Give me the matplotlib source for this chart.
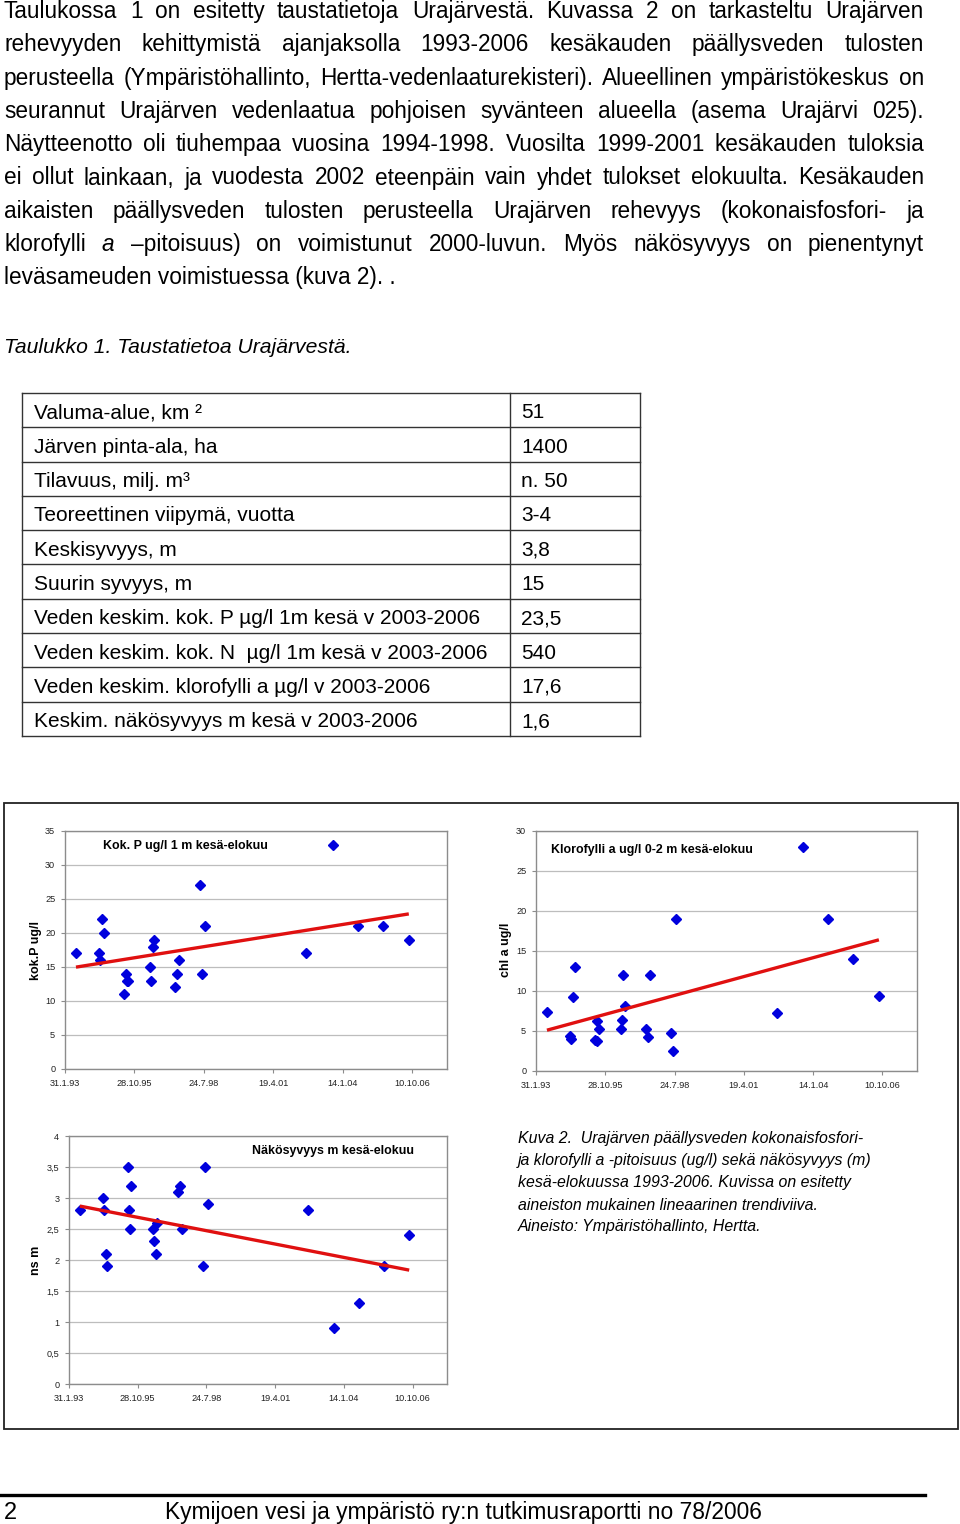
import numpy as np
import pandas as pd
import matplotlib
matplotlib.use("Agg")
import matplotlib.pyplot as plt
import matplotlib.dates as mdates
from matplotlib.lines import Line2D
from matplotlib.patches import Rectangle
from matplotlib.ticker import FuncFormatter, MultipleLocator

plt.rcParams['font.family'] = ['Liberation Sans', 'DejaVu Sans']

W, H = 960, 1524

# tekstikappale (rivit kuten alkuperäisessä, _ = kursiivi)
para_lines = [
    "Taulukossa 1 on esitetty taustatietoja Urajärvestä. Kuvassa 2 on tarkasteltu Urajärven",
    "rehevyyden kehittymistä ajanjaksolla 1993-2006 kesäkauden päällysveden tulosten",
    "perusteella (Ympäristöhallinto, Hertta-vedenlaaturekisteri). Alueellinen ympäristökeskus on",
    "seurannut Urajärven vedenlaatua pohjoisen syvänteen alueella (asema Urajärvi 025).",
    "Näytteenotto oli tiuhempaa vuosina 1994-1998. Vuosilta 1999-2001 kesäkauden tuloksia",
    "ei ollut lainkaan, ja vuodesta 2002 eteenpäin vain yhdet tulokset elokuulta. Kesäkauden",
    "aikaisten päällysveden tulosten perusteella Urajärven rehevyys (kokonaisfosfori- ja",
    "klorofylli _a –pitoisuus) on voimistunut 2000-luvun. Myös näkösyvyys on pienentynyt",
    "leväsameuden voimistuessa (kuva 2). .",
]
table_title = "Taulukko 1. Taustatietoa Urajärvestä."

# taulukko 1
table_labels = [
    "Valuma-alue, km ²",
    "Järven pinta-ala, ha",
    "Tilavuus, milj. m³",
    "Teoreettinen viipymä, vuotta",
    "Keskisyvyys, m",
    "Suurin syvyys, m",
    "Veden keskim. kok. P µg/l 1m kesä v 2003-2006",
    "Veden keskim. kok. N  µg/l 1m kesä v 2003-2006",
    "Veden keskim. klorofylli a µg/l v 2003-2006",
    "Keskim. näkösyvyys m kesä v 2003-2006",
]
table_values = ["51", "1400", "n. 50", "3-4", "3,8", "15", "23,5", "540", "17,6", "1,6"]

# näytteenottopäivät ja tulokset (kesä-elokuu)
dates = pd.to_datetime([
    "1993-07-08",
    "1994-06-09", "1994-06-23", "1994-07-22", "1994-08-10",
    "1995-06-03", "1995-06-27", "1995-07-06", "1995-07-26",
    "1996-06-06", "1996-06-20", "1996-07-14", "1996-08-02",
    "1997-06-01", "1997-07-04", "1997-08-01",
    "1998-06-04", "1998-07-03", "1998-08-10",
    "2002-08-06", "2003-08-24", "2004-08-18", "2005-08-17", "2006-08-21",
])
kok_p = [17, 17, 16, 22, 20, 11, 14, 13, 13, 15, 13, 18, 19, 12, 14, 16,
         27, 14, 21, 17, 33, 21, 21, 19]
chl_a = [7.4, 4.4, 4.0, 9.2, 13, 3.9, 3.7, 6.2, 5.2, 5.2, 6.4, 12, 8.1,
         5.2, 4.3, 12, 4.7, 2.5, 19, 7.2, 28, 19, 14, 9.4]
nakosyvyys = [2.8, 3.0, 2.8, 2.1, 1.9, 3.5, 2.8, 2.5, 3.2, 2.5, 2.3, 2.1, 2.6,
              3.1, 3.2, 2.5, 1.9, 3.5, 2.9, 2.8, 0.9, 1.3, 1.9, 2.4]

caption_lines = [
    "Kuva 2.  Urajärven päällysveden kokonaisfosfori-",
    "ja klorofylli a -pitoisuus (ug/l) sekä näkösyvyys (m)",
    "kesä-elokuussa 1993-2006. Kuvissa on esitetty",
    "aineiston mukainen lineaarinen trendiviiva.",
    "Aineisto: Ympäristöhallinto, Hertta.",
]
footer_text = "Kymijoen vesi ja ympäristö ry:n tutkimusraportti no 78/2006"

fig = plt.figure(figsize=(W / 100, H / 100), dpi=100)


def fx(px):
    return px / W


def fy(py):
    return 1 - py / H


# --- tasattu tekstikappale ---
renderer = fig.canvas.get_renderer()
body_size = 16.3
x0, x1 = 4, 924
for i, line in enumerate(para_lines):
    y = 18 + 33.3 * i
    if i == len(para_lines) - 1:
        # viimeinen rivi ilman tasausta
        fig.text(fx(x0), fy(y), line, fontsize=body_size, va='baseline')
        continue
    arts = []
    for w in line.split(' '):
        style = 'normal'
        if w.startswith('_'):
            w = w[1:]
            style = 'italic'
        t = fig.text(fx(x0), fy(y), w, fontsize=body_size, style=style, va='baseline')
        arts.append(t)
    widths = [a.get_window_extent(renderer).width for a in arts]
    gap = (x1 - x0 - sum(widths)) / (len(arts) - 1)
    x = x0
    for a, wd in zip(arts, widths):
        a.set_x(fx(x))
        x += wd + gap

fig.text(fx(4), fy(353), table_title, fontsize=15.2, style='italic', va='baseline')

# --- taulukko ---
tl, tm, tr = 22, 510, 640
row_top, row_h = 393, 34.3
n = len(table_labels)
for k in range(n + 1):
    yy = fy(row_top + k * row_h)
    fig.add_artist(Line2D([fx(tl), fx(tr)], [yy, yy], color='#333333', lw=1))
for xx in (tl, tm, tr):
    fig.add_artist(Line2D([fx(xx), fx(xx)], [fy(row_top), fy(row_top + n * row_h)],
                          color='#333333', lw=1))
for k, (lab, val) in enumerate(zip(table_labels, table_values)):
    yb = row_top + k * row_h + 25.5
    fig.text(fx(34), fy(yb), lab, fontsize=15, va='baseline')
    fig.text(fx(521), fy(yb), val, fontsize=15, va='baseline')

# --- kuvien kehys ---
fig.add_artist(Rectangle((fx(4), fy(1429)), fx(958) - fx(4), fy(803) - fy(1429),
                         fill=False, edgecolor='#222222', lw=1.3))


def add_ax(l, t, r, b):
    return fig.add_axes([fx(l), fy(b), fx(r) - fx(l), fy(t) - fy(b)])


start = pd.Timestamp("1993-01-31")
xt = [start + pd.Timedelta(days=1000 * k) for k in range(6)]
xmax = start + pd.Timedelta(days=5500)


def date_label(v, pos):
    d = mdates.num2date(v)
    return f"{d.day}.{d.month}.{d.year % 100:02d}"


def style_ax(ax, ymax, ystep, yfmt=None):
    ax.set_xlim(start, xmax)
    ax.set_ylim(0, ymax)
    ax.set_xticks(xt)
    ax.xaxis.set_major_formatter(FuncFormatter(date_label))
    ax.yaxis.set_major_locator(MultipleLocator(ystep))
    if yfmt:
        ax.yaxis.set_major_formatter(FuncFormatter(yfmt))
    ax.grid(axis='y', color='#bdbdbd', lw=0.9)
    ax.set_axisbelow(True)
    for s in ax.spines.values():
        s.set_color('#8c8c8c')
        s.set_linewidth(1)
    ax.tick_params(labelsize=6.6, colors='#8c8c8c', labelcolor='#222222',
                   length=3, width=0.8, pad=4)


def scatter_trend(ax, y):
    xn = mdates.date2num(dates)
    ax.plot(dates, y, ls='none', marker='D', ms=5.6, color='#0000dd', zorder=3)
    k, c = np.polyfit(xn, y, 1)
    xl = np.array([xn.min(), xn.max()])
    ax.plot(mdates.num2date(xl), k * xl + c, color='#e01010', lw=2.4, zorder=4,
            solid_capstyle='butt')


ax1 = add_ax(65, 831, 447, 1069)
style_ax(ax1, 35, 5)
scatter_trend(ax1, kok_p)
fig.text(fx(103), fy(846), "Kok. P ug/l 1 m kesä-elokuu", fontsize=8.9,
         weight='bold', va='center')
fig.text(fx(36), fy(950), "kok.P ug/l", fontsize=9, weight='bold', rotation=90,
         ha='center', va='center')

ax2 = add_ax(536, 831, 917, 1071)
style_ax(ax2, 30, 5)
scatter_trend(ax2, chl_a)
fig.text(fx(551), fy(850), "Klorofylli a ug/l 0-2 m kesä-elokuu", fontsize=8.9,
         weight='bold', va='center')
fig.text(fx(506), fy(950), "chl a ug/l", fontsize=9, weight='bold', rotation=90,
         ha='center', va='center')

ax3 = add_ax(69, 1136, 447, 1384)
style_ax(ax3, 4, 0.5, lambda v, p: f"{v:g}".replace('.', ','))
scatter_trend(ax3, nakosyvyys)
fig.text(fx(252), fy(1151), "Näkösyvyys m kesä-elokuu", fontsize=8.9,
         weight='bold', va='center')
fig.text(fx(36), fy(1260), "ns m", fontsize=9, weight='bold', rotation=90,
         ha='center', va='center')

# --- kuvateksti ---
for i, line in enumerate(caption_lines):
    fig.text(fx(518), fy(1139 + 22 * i), line, fontsize=11.4, style='italic', va='center')

# --- alatunniste ---
fig.add_artist(Line2D([0, fx(925)], [fy(1495), fy(1495)], color='black', lw=2.4))
fig.text(fx(4), fy(1519), "2", fontsize=17, va='baseline')
fig.text(fx(165), fy(1519), footer_text, fontsize=16.4, va='baseline')

fig.savefig("out.png", dpi=100)
